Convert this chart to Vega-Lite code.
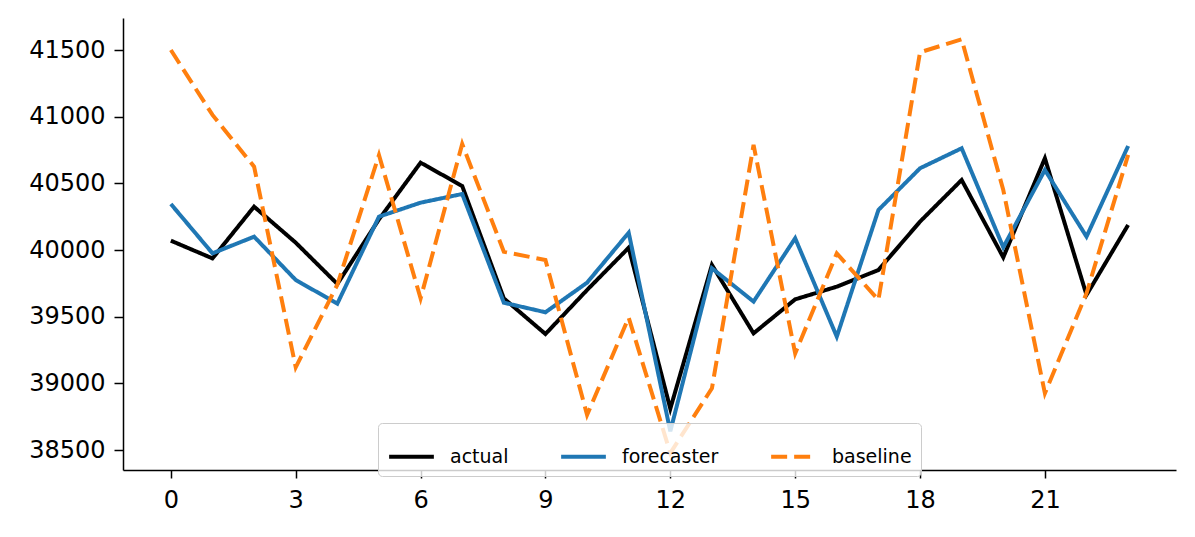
{
  "$schema": "https://vega.github.io/schema/vega-lite/v6.json",
  "autosize": "none",
  "width": 1053,
  "height": 452,
  "padding": {"left": 123, "top": 18, "right": 19, "bottom": 67},
  "background": "white",
  "config": {
    "view": {"stroke": null},
    "font": "DejaVu Sans",
    "axis": {"labelFont": "DejaVu Sans", "labelColor": "black", "domainColor": "black", "tickColor": "black", "grid": false}
  },
  "datasets": {
    "series": [
      {"x": 0, "series": "actual", "value": 40070},
      {"x": 1, "series": "actual", "value": 39937},
      {"x": 2, "series": "actual", "value": 40325},
      {"x": 3, "series": "actual", "value": 40055},
      {"x": 4, "series": "actual", "value": 39745},
      {"x": 5, "series": "actual", "value": 40230},
      {"x": 6, "series": "actual", "value": 40655},
      {"x": 7, "series": "actual", "value": 40480},
      {"x": 8, "series": "actual", "value": 39637},
      {"x": 9, "series": "actual", "value": 39370},
      {"x": 10, "series": "actual", "value": 39700},
      {"x": 11, "series": "actual", "value": 40017},
      {"x": 12, "series": "actual", "value": 38810},
      {"x": 13, "series": "actual", "value": 39888},
      {"x": 14, "series": "actual", "value": 39375},
      {"x": 15, "series": "actual", "value": 39630},
      {"x": 16, "series": "actual", "value": 39725},
      {"x": 17, "series": "actual", "value": 39850},
      {"x": 18, "series": "actual", "value": 40213},
      {"x": 19, "series": "actual", "value": 40525},
      {"x": 20, "series": "actual", "value": 39945},
      {"x": 21, "series": "actual", "value": 40688},
      {"x": 22, "series": "actual", "value": 39663},
      {"x": 23, "series": "actual", "value": 40188},
      {"x": 0, "series": "forecaster", "value": 40345},
      {"x": 1, "series": "forecaster", "value": 39975},
      {"x": 2, "series": "forecaster", "value": 40100},
      {"x": 3, "series": "forecaster", "value": 39775},
      {"x": 4, "series": "forecaster", "value": 39598},
      {"x": 5, "series": "forecaster", "value": 40250},
      {"x": 6, "series": "forecaster", "value": 40355},
      {"x": 7, "series": "forecaster", "value": 40420},
      {"x": 8, "series": "forecaster", "value": 39605},
      {"x": 9, "series": "forecaster", "value": 39533},
      {"x": 10, "series": "forecaster", "value": 39755},
      {"x": 11, "series": "forecaster", "value": 40130},
      {"x": 12, "series": "forecaster", "value": 38640},
      {"x": 13, "series": "forecaster", "value": 39863},
      {"x": 14, "series": "forecaster", "value": 39613},
      {"x": 15, "series": "forecaster", "value": 40088},
      {"x": 16, "series": "forecaster", "value": 39350},
      {"x": 17, "series": "forecaster", "value": 40300},
      {"x": 18, "series": "forecaster", "value": 40613},
      {"x": 19, "series": "forecaster", "value": 40763},
      {"x": 20, "series": "forecaster", "value": 40020},
      {"x": 21, "series": "forecaster", "value": 40600},
      {"x": 22, "series": "forecaster", "value": 40100},
      {"x": 23, "series": "forecaster", "value": 40780},
      {"x": 0, "series": "baseline", "value": 41500},
      {"x": 1, "series": "baseline", "value": 41013},
      {"x": 2, "series": "baseline", "value": 40625},
      {"x": 3, "series": "baseline", "value": 39120},
      {"x": 4, "series": "baseline", "value": 39740},
      {"x": 5, "series": "baseline", "value": 40712},
      {"x": 6, "series": "baseline", "value": 39637},
      {"x": 7, "series": "baseline", "value": 40795},
      {"x": 8, "series": "baseline", "value": 39987},
      {"x": 9, "series": "baseline", "value": 39925},
      {"x": 10, "series": "baseline", "value": 38763},
      {"x": 11, "series": "baseline", "value": 39493},
      {"x": 12, "series": "baseline", "value": 38477},
      {"x": 13, "series": "baseline", "value": 38963},
      {"x": 14, "series": "baseline", "value": 40788},
      {"x": 15, "series": "baseline", "value": 39225},
      {"x": 16, "series": "baseline", "value": 39975},
      {"x": 17, "series": "baseline", "value": 39625},
      {"x": 18, "series": "baseline", "value": 41483},
      {"x": 19, "series": "baseline", "value": 41580},
      {"x": 20, "series": "baseline", "value": 40450},
      {"x": 21, "series": "baseline", "value": 38925},
      {"x": 22, "series": "baseline", "value": 39675},
      {"x": 23, "series": "baseline", "value": 40713}
    ]
  },
  "data": {"name": "series"},
  "encoding": {
    "x": {
      "field": "x", "type": "quantitative",
      "scale": {"domain": [-1.15, 24.15], "nice": false, "zero": false},
      "axis": {"title": null, "values": [0, 3, 6, 9, 12, 15, 18, 21], "labelFontSize": 24, "tickSize": 8, "tickWidth": 1.5, "domainWidth": 1.5, "labelPadding": 10, "labelFlush": false}
    },
    "y": {
      "field": "value", "type": "quantitative",
      "scale": {"domain": [38350, 41740], "nice": false, "zero": false},
      "axis": {"title": null, "values": [38500, 39000, 39500, 40000, 40500, 41000, 41500], "format": "d", "labelFontSize": 24, "tickSize": 9, "tickWidth": 1.5, "domainWidth": 1.5, "labelPadding": 9}
    },
    "color": {
      "field": "series", "type": "nominal",
      "scale": {"domain": ["actual", "forecaster", "baseline"], "range": ["#000000", "#1f77b4", "#ff7f0e"]},
      "legend": {
        "title": null, "orient": "none", "direction": "horizontal", "columns": 3,
        "legendX": 255, "legendY": 405,
        "labelFontSize": 19, "labelFont": "DejaVu Sans", "labelColor": "black",
        "symbolType": "stroke", "symbolSize": 2000, "symbolStrokeWidth": 4,
        "labelOffset": 14, "columnPadding": 44, "padding": 9,
        "strokeColor": "#cccccc", "fillColor": "rgba(255,255,255,0.8)", "cornerRadius": 4
      }
    },
    "strokeDash": {
      "field": "series", "type": "nominal",
      "scale": {"domain": ["actual", "forecaster", "baseline"], "range": [[1, 0], [1, 0], [16, 7]]}
    }
  },
  "layer": [
    {"transform": [{"filter": "datum.series === 'actual'"}], "mark": {"type": "line", "strokeWidth": 4}},
    {"transform": [{"filter": "datum.series === 'forecaster'"}], "mark": {"type": "line", "strokeWidth": 4}},
    {"transform": [{"filter": "datum.series === 'baseline'"}], "mark": {"type": "line", "strokeWidth": 4}}
  ]
}
